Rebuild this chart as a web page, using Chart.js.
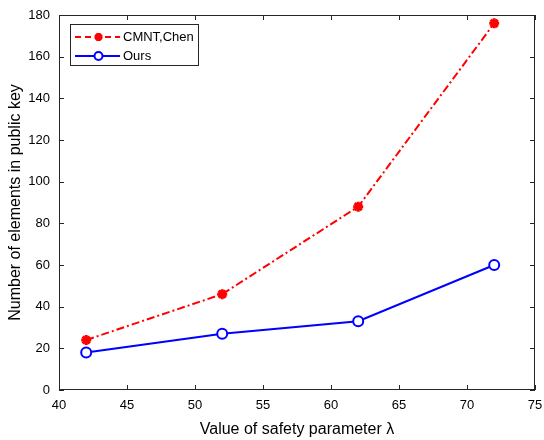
<!DOCTYPE html>
<html>
<head>
<meta charset="utf-8">
<script src="https://cdn.jsdelivr.net/npm/chart.js@4/dist/chart.umd.min.js"></script>
<style>
  html, body { margin: 0; padding: 0; background: #fff; }
  #wrap { width: 544px; height: 440px; }
</style>
</head>
<body>
<div id="wrap"><canvas id="plot" width="544" height="440"></canvas></div>
<script>
const lambdaValues = [42, 52, 62, 72];
const cmntChen = [24, 46, 88, 176];
const ours = [18, 27, 33, 60];
const seriesNames = ['CMNT,Chen', 'Ours'];
const xTicks = [40, 45, 50, 55, 60, 65, 70, 75];
const yTicks = [0, 20, 40, 60, 80, 100, 120, 140, 160, 180];

const FONT = 'Liberation Sans, Arial, Helvetica, sans-serif';
const AXIS = '#262626';

function toPoints(ys) {
    return lambdaValues.map((x, i) => ({ x: x, y: ys[i] }));
}

// box, inward ticks and the legend, MATLAB style
const matlabBox = {
    id: 'matlabBox',
    afterDraw(chart) {
        const ctx = chart.ctx;
        const a = chart.chartArea;
        const xs = chart.scales.x, ys = chart.scales.y;
        ctx.save();
        ctx.strokeStyle = AXIS;
        ctx.lineWidth = 1;
        ctx.strokeRect(a.left + 0.5, a.top + 0.5, a.right - a.left - 1, a.bottom - a.top - 1);
        ctx.beginPath();
        xTicks.forEach(v => {
            const px = Math.round(xs.getPixelForValue(v)) + 0.5;
            ctx.moveTo(px, a.bottom); ctx.lineTo(px, a.bottom - 5);
            ctx.moveTo(px, a.top); ctx.lineTo(px, a.top + 5);
        });
        yTicks.forEach(v => {
            const py = Math.round(ys.getPixelForValue(v)) + 0.5;
            ctx.moveTo(a.left, py); ctx.lineTo(a.left + 5, py);
            ctx.moveTo(a.right, py); ctx.lineTo(a.right - 5, py);
        });
        ctx.stroke();

        // legend
        const lx = 70, ly = 24, lw = 128, lh = 41;
        ctx.fillStyle = '#fff';
        ctx.fillRect(lx, ly, lw, lh);
        ctx.strokeStyle = AXIS;
        ctx.strokeRect(lx + 0.5, ly + 0.5, lw, lh);
        const rows = [37, 56];
        chart.data.datasets.forEach((ds, i) => {
            const y = rows[i];
            ctx.strokeStyle = ds.borderColor;
            ctx.lineWidth = 2;
            ctx.setLineDash(i === 0 ? [6, 4] : []);
            ctx.beginPath();
            ctx.moveTo(75, y); ctx.lineTo(120, y);
            ctx.stroke();
            ctx.setLineDash([]);
            ctx.fillStyle = ds.pointBackgroundColor;
            ctx.strokeStyle = ds.pointBorderColor;
            ctx.lineWidth = ds.pointBorderWidth;
            Chart.helpers.drawPoint(ctx, {
                pointStyle: ds.pointStyle, radius: ds.pointRadius - 1, borderWidth: ds.pointBorderWidth, rotation: 0
            }, 98.5, y);
            ctx.fillStyle = '#000';
            ctx.font = '13px ' + FONT;
            ctx.textBaseline = 'middle';
            ctx.textAlign = 'left';
            ctx.fillText(ds.label, 123, y);
        });
        ctx.restore();
    }
};

const ctx = document.getElementById('plot').getContext('2d');
const chart = new Chart(ctx, {
    type: 'line',
    data: {
        datasets: [
            {
                label: seriesNames[0],
                data: toPoints(cmntChen),
                borderColor: '#ff0000',
                backgroundColor: '#ff0000',
                borderWidth: 2,
                borderDash: [8, 3, 2, 3],
                pointStyle: 'star',
                pointRadius: 5,
                pointBorderWidth: 3,
                pointBorderColor: '#ff0000',
                pointBackgroundColor: '#ff0000',
                fill: false
            },
            {
                label: seriesNames[1],
                data: toPoints(ours),
                borderColor: '#0000ff',
                backgroundColor: '#ffffff',
                borderWidth: 2,
                pointStyle: 'circle',
                pointRadius: 5,
                pointBorderWidth: 2,
                pointBorderColor: '#0000ff',
                pointBackgroundColor: '#ffffff',
                fill: false
            }
        ]
    },
    options: {
        responsive: false,
        animation: false,
        layout: { padding: { left: 0, top: 15, right: 9, bottom: 0 } },
        plugins: {
            legend: { display: false },
            tooltip: { enabled: false }
        },
        scales: {
            x: {
                type: 'linear',
                min: 40,
                max: 75,
                afterBuildTicks: s => { s.ticks = xTicks.map(v => ({ value: v })); },
                afterFit: s => { s.height = 50; s.paddingLeft = 0; s.paddingRight = 0; },
                grid: { display: false },
                border: { display: false },
                ticks: { color: '#000', font: { family: FONT, size: 13 }, padding: 0, maxRotation: 0 },
                title: {
                    display: true,
                    text: 'Value of safety parameter λ',
                    color: '#000',
                    font: { family: FONT, size: 16 },
                    padding: { top: 0, bottom: 1 }
                }
            },
            y: {
                min: 0,
                max: 180,
                afterBuildTicks: s => { s.ticks = yTicks.map(v => ({ value: v })); },
                afterFit: s => { s.width = 59; s.paddingTop = 0; s.paddingBottom = 0; },
                grid: { display: false },
                border: { display: false },
                ticks: { color: '#000', font: { family: FONT, size: 13 }, padding: 1 },
                title: {
                    display: true,
                    text: 'Number of elements in public key',
                    color: '#000',
                    font: { family: FONT, size: 16 },
                    padding: { top: 6, bottom: 0 }
                }
            }
        }
    },
    plugins: [matlabBox]
});
</script>
</body>
</html>
